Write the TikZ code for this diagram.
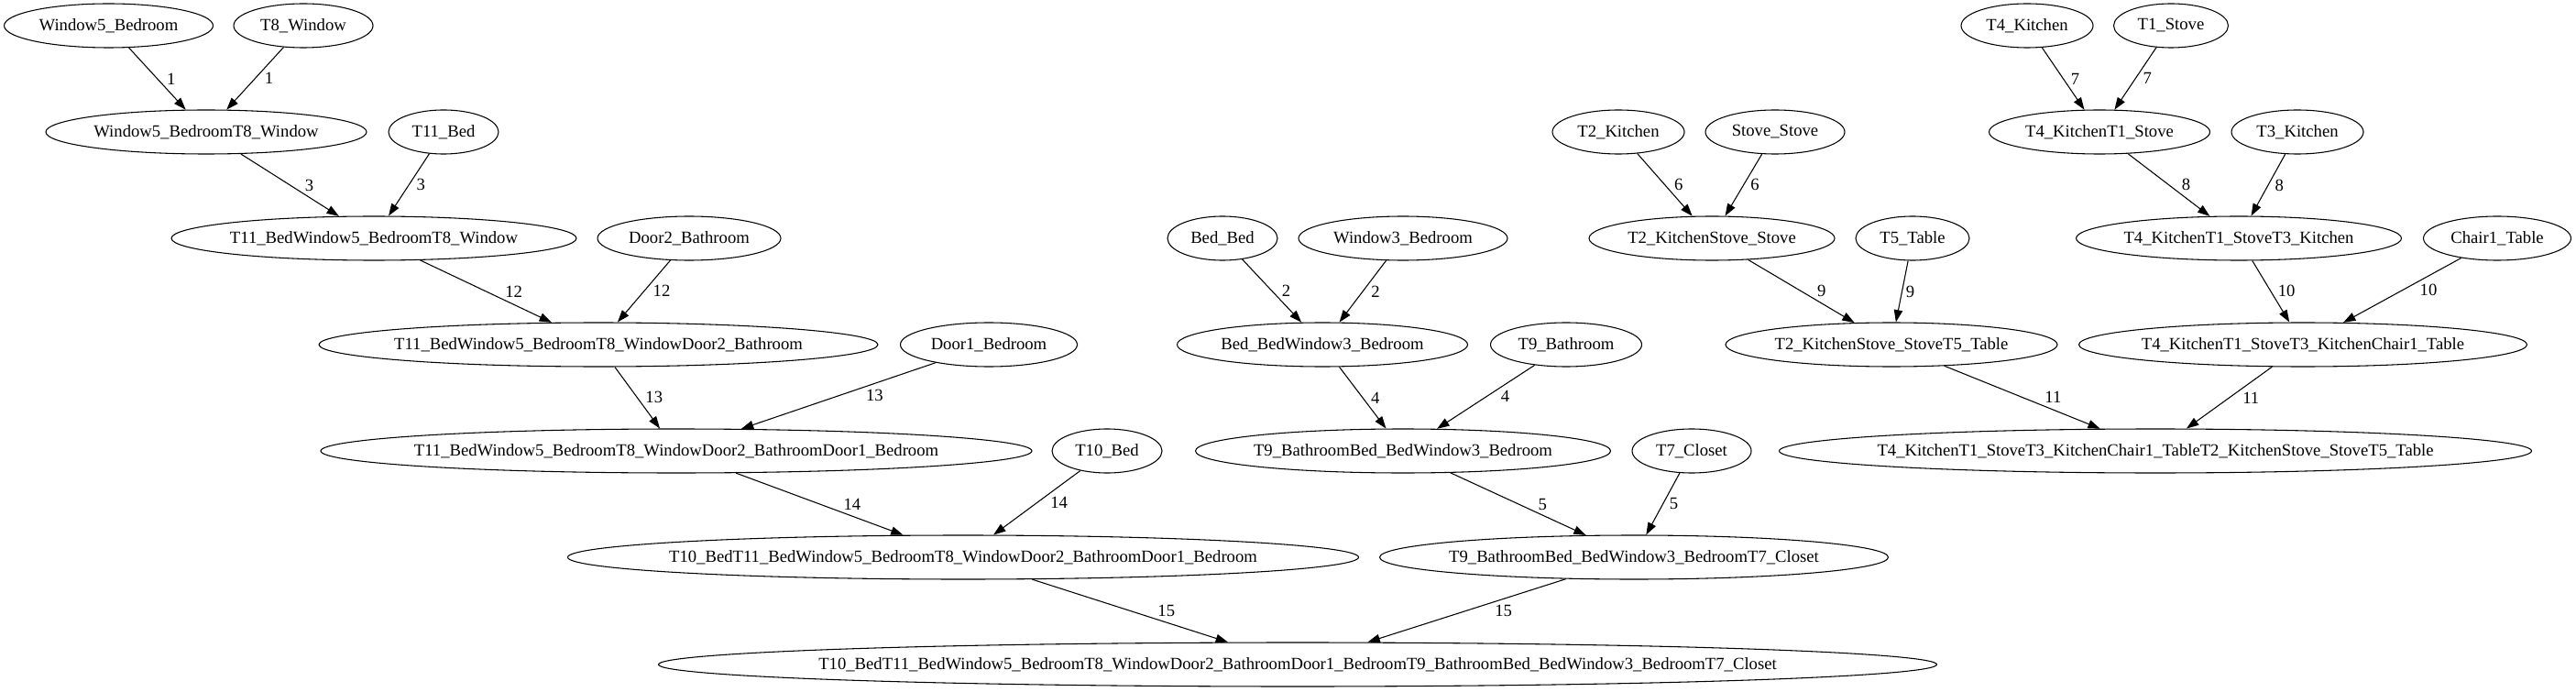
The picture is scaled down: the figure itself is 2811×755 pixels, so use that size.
\documentclass[tikz,border=0pt]{standalone}
\usepackage{fontspec}
\setmainfont{Liberation Serif}
\usetikzlibrary{shapes.geometric,arrows.meta}

\tikzset{
  st/.style={shape=ellipse, draw=black, minimum height=36pt, inner xsep=-400pt, inner ysep=0pt},
  ew/.style={minimum width=#1*0.75pt},
  dr/.style={pos=.63, anchor=south west, inner sep=1.5pt},
  dl/.style={pos=.37, anchor=north west, inner sep=1.5pt},
}

\begin{document}
\begin{tikzpicture}[x=0.75pt, y=-0.75pt, line width=0.8pt,
  font=\fontsize{14}{16}\selectfont, >={Triangle[length=10pt,width=7pt]}]
\useasboundingbox (0,0) rectangle (2811,755);
% row 0
\node[st, ew=228] (W5B) at (118.5,28) {Window5\_Bedroom};
\node[st, ew=152] (T8W) at (331,28) {T8\_Window};
\node[st, ew=144] (T4K) at (2212,28) {T4\_Kitchen};
\node[st, ew=125] (T1S) at (2369,28) {T1\_Stove};
% row 1
\node[st, ew=350] (W5BT8W) at (225,144) {Window5\_BedroomT8\_Window};
\node[st, ew=120] (T11B) at (484,144) {T11\_Bed};
\node[st, ew=144] (T2K) at (1766,144) {T2\_Kitchen};
\node[st, ew=152] (SS) at (1937,144) {Stove\_Stove};
\node[st, ew=241] (T4KT1S) at (2291,144) {T4\_KitchenT1\_Stove};
\node[st, ew=144] (T3K) at (2507,144) {T3\_Kitchen};
% row 2
\node[st, ew=442] (N3) at (408,260) {T11\_BedWindow5\_BedroomT8\_Window};
\node[st, ew=200] (D2B) at (752,260) {Door2\_Bathroom};
\node[st, ew=120] (BB) at (1334,260) {Bed\_Bed};
\node[st, ew=228] (W3B) at (1531,260) {Window3\_Bedroom};
\node[st, ew=268] (N6) at (1868,260) {T2\_KitchenStove\_Stove};
\node[st, ew=124] (T5T) at (2087,260) {T5\_Table};
\node[st, ew=355] (N8) at (2443,260) {T4\_KitchenT1\_StoveT3\_Kitchen};
\node[st, ew=161] (C1T) at (2725,260) {Chair1\_Table};
% row 3
\node[st, ew=610] (N12) at (653,376) {T11\_BedWindow5\_BedroomT8\_WindowDoor2\_Bathroom};
\node[st, ew=193] (D1B) at (1079,376) {Door1\_Bedroom};
\node[st, ew=317] (N2) at (1443,376) {Bed\_BedWindow3\_Bedroom};
\node[st, ew=165] (T9B) at (1709,376) {T9\_Bathroom};
\node[st, ew=362] (N9) at (2064,376) {T2\_KitchenStove\_StoveT5\_Table};
\node[st, ew=489] (N10) at (2513,376) {T4\_KitchenT1\_StoveT3\_KitchenChair1\_Table};
% row 4
\node[st, ew=776] (N13) at (738,492) {T11\_BedWindow5\_BedroomT8\_WindowDoor2\_BathroomDoor1\_Bedroom};
\node[st, ew=120] (T10B) at (1208,492) {T10\_Bed};
\node[st, ew=453] (N4) at (1531,492) {T9\_BathroomBed\_BedWindow3\_Bedroom};
\node[st, ew=130] (T7C) at (1846,492) {T7\_Closet};
\node[st, ew=821] (N11) at (2352,492) {T4\_KitchenT1\_StoveT3\_KitchenChair1\_TableT2\_KitchenStove\_StoveT5\_Table};
% row 5
\node[st, ew=863] (N14) at (1051,608) {T10\_BedT11\_BedWindow5\_BedroomT8\_WindowDoor2\_BathroomDoor1\_Bedroom};
\node[st, ew=555] (N5) at (1783,608) {T9\_BathroomBed\_BedWindow3\_BedroomT7\_Closet};
% row 6
\node[st, ew=1395] (N15) at (1416,725) {T10\_BedT11\_BedWindow5\_BedroomT8\_WindowDoor2\_BathroomDoor1\_BedroomT9\_BathroomBed\_BedWindow3\_BedroomT7\_Closet};

\path[->] (W5B) edge node[dr] {1} (W5BT8W);
\path[->] (T8W) edge node[dl] {1} (W5BT8W);
\path[->] (BB) edge node[dr] {2} (N2);
\path[->] (W3B) edge node[dl] {2} (N2);
\path[->] (W5BT8W) edge node[dr] {3} (N3);
\path[->] (T11B) edge node[dl] {3} (N3);
\path[->] (N2) edge node[dr] {4} (N4);
\path[->] (T9B) edge node[dl] {4} (N4);
\path[->] (N4) edge node[dr] {5} (N5);
\path[->] (T7C) edge node[dl] {5} (N5);
\path[->] (T2K) edge node[dr] {6} (N6);
\path[->] (SS) edge node[dl] {6} (N6);
\path[->] (T4K) edge node[dr] {7} (T4KT1S);
\path[->] (T1S) edge node[dl] {7} (T4KT1S);
\path[->] (T4KT1S) edge node[dr] {8} (N8);
\path[->] (T3K) edge node[dl] {8} (N8);
\path[->] (N6) edge node[dr] {9} (N9);
\path[->] (T5T) edge node[dl] {9} (N9);
\path[->] (N8) edge node[dr] {10} (N10);
\path[->] (C1T) edge node[dl] {10} (N10);
\path[->] (N9) edge node[dr] {11} (N11);
\path[->] (N10) edge node[dl] {11} (N11);
\path[->] (N3) edge node[dr] {12} (N12);
\path[->] (D2B) edge node[dl] {12} (N12);
\path[->] (N12) edge node[dr] {13} (N13);
\path[->] (D1B) edge node[dl] {13} (N13);
\path[->] (N13) edge node[dr] {14} (N14);
\path[->] (T10B) edge node[dl] {14} (N14);
\path[->] (N14) edge node[dr] {15} (N15);
\path[->] (N5) edge node[dl] {15} (N15);
\end{tikzpicture}
\end{document}
